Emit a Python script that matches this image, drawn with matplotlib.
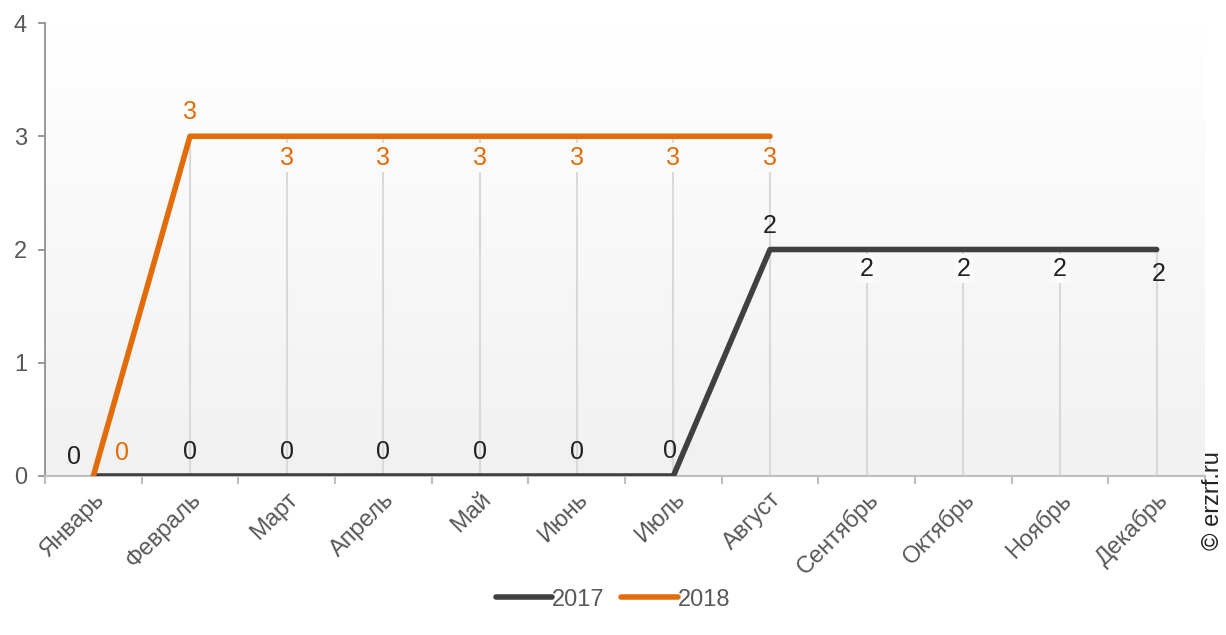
import numpy as np
import matplotlib
matplotlib.use("Agg")
import matplotlib.pyplot as plt

months = ["Январь", "Февраль", "Март", "Апрель", "Май", "Июнь",
          "Июль", "Август", "Сентябрь", "Октябрь", "Ноябрь", "Декабрь"]
y2017 = [0, 0, 0, 0, 0, 0, 0, 2, 2, 2, 2, 2]
y2018 = [0, 3, 3, 3, 3, 3, 3, 3]

C17 = "#404040"
C18 = "#e36c0a"
TXT = "#595959"

plt.rcParams["font.family"] = ["Liberation Sans", "DejaVu Sans"]

fig = plt.figure(figsize=(12.26, 6.35), dpi=100)
ax = fig.add_axes([45 / 1226, 159 / 635, 1160 / 1226, 453 / 635])

x = np.arange(len(months))
ax.set_xlim(-0.5, len(months) - 0.5)
ax.set_ylim(0, 4)

# background gradient, white at top -> light gray at bottom
grad = np.linspace(0, 1, 256).reshape(-1, 1)
cmap = matplotlib.colors.LinearSegmentedColormap.from_list("bg", ["#f1f1f1", "#ffffff"])
ax.imshow(grad, extent=(-0.5, len(months) - 0.5, 0, 4), origin="lower",
          aspect="auto", cmap=cmap, zorder=0)

# drop lines
for i in range(len(months)):
    top = max(y2017[i], y2018[i] if i < len(y2018) else 0)
    if top > 0:
        ax.plot([i, i], [0, top], color="#d9d9d9", lw=1.5, zorder=1)

ax.plot(x, y2017, color=C17, lw=4, solid_capstyle="round", zorder=3, label="2017")
ax.plot(x[:len(y2018)], y2018, color=C18, lw=4, solid_capstyle="round", zorder=4, label="2018")

box = dict(boxstyle="square,pad=0.1", fc="#fafafa", ec="none")
fs = 18
# 2017 labels
for i, v in enumerate(y2017):
    if i == 0:
        ax.text(i - 0.2, v + 0.17, str(v), color="#222222", fontsize=fs, ha="center", va="center", zorder=5)
    elif i == 6:
        ax.text(i - 0.03, v + 0.22, str(v), color="#222222", fontsize=fs, ha="center", va="center", zorder=5)
    elif i in (1, 2, 3, 4, 5, 7):
        ax.text(i, v + 0.21, str(v), color="#222222", fontsize=fs, ha="center", va="center", zorder=5)
    elif i == 11:
        ax.text(i + 0.02, v - 0.22, str(v), color="#222222", fontsize=fs, ha="center", va="center", zorder=5)
    else:
        ax.text(i, v - 0.17, str(v), color="#222222", fontsize=fs, ha="center", va="center", zorder=5, bbox=box)
# 2018 labels
for i, v in enumerate(y2018):
    if i == 0:
        ax.text(i + 0.3, v + 0.2, str(v), color=C18, fontsize=fs, ha="center", va="center", zorder=5)
    elif i == 1:
        ax.text(i, v + 0.21, str(v), color=C18, fontsize=fs, ha="center", va="center", zorder=5)
    else:
        ax.text(i, v - 0.19, str(v), color=C18, fontsize=fs, ha="center", va="center", zorder=5, bbox=box)

for s in ("top", "right"):
    ax.spines[s].set_visible(False)
ax.spines["left"].set_color("#888888")
ax.spines["bottom"].set_color("#bfbfbf")
ax.spines["left"].set_linewidth(1.2)
ax.spines["bottom"].set_linewidth(1.5)

ax.set_yticks([0, 1, 2, 3, 4])
ax.tick_params(axis="y", colors="#888888", labelcolor=TXT, labelsize=17, length=5, width=1.2, pad=8)

ax.set_xticks(np.arange(-0.5, len(months) + 0.5, 1.0))
ax.set_xticklabels([])
ax.set_xticks(x, minor=True)
ax.set_xticklabels(months, minor=True, rotation=45, ha="right", va="top",
                   rotation_mode="anchor", fontsize=17, color=TXT)
ax.tick_params(axis="x", which="major", colors="#bfbfbf", length=6, width=1.5)
ax.tick_params(axis="x", which="minor", length=0, pad=9)

fig.legend(loc="lower center", bbox_to_anchor=(0.5, 0.005), ncol=2, frameon=False,
           fontsize=17, handlelength=2.4, handletextpad=0.0, columnspacing=0.7,
           labelcolor=TXT)

fig.text(0.989, 0.29, "© erzrf.ru", rotation=90, ha="center", va="top", fontsize=17, color="#222222")

fig.savefig("out.png", dpi=100)
